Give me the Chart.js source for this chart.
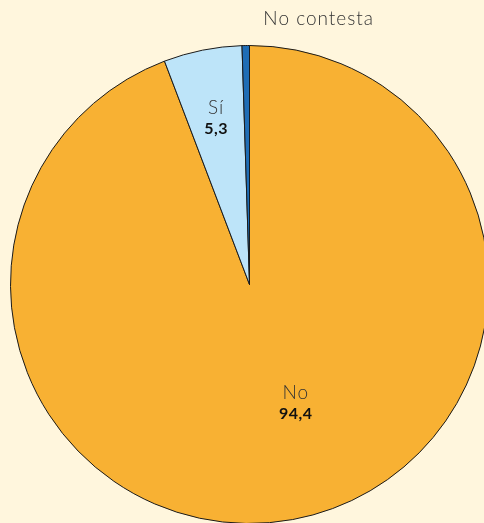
<!DOCTYPE html>
<html>
<head>
<meta charset="utf-8">
<script src="https://cdn.jsdelivr.net/npm/chart.js@4"></script>
<style>
  html, body { margin: 0; padding: 0; width: 484px; height: 523px; overflow: hidden; background: #fff6dd; }
  #wrap { position: absolute; left: 10px; top: 0; width: 479px; height: 524px; }
</style>
</head>
<body>
<div id="wrap"><canvas id="pie"></canvas></div>
<script>
// Respuestas (%)
const categorias = ['No', 'Sí', 'No contesta'];
const valores = [94.4, 5.3, 0.5];
const etiquetas = ['94,4', '5,3', ''];
const colores = ['#f8b133', '#bde4f9', '#1f6db5'];

// dónde va cada rótulo: fracción del radio y giro extra (grados)
const rotulos = [
  { r: 0.53, giro: -11 },
  { r: 0.71, giro: 0 },
  { r: 1.11, giro: 0, fuera: true }
];

const textos = {
  id: 'textos',
  afterDatasetsDraw(chart) {
    const ctx = chart.ctx;
    const arcos = chart.getDatasetMeta(0).data;
    arcos.forEach((arc, i) => {
      const p = arc.getProps(['x', 'y', 'startAngle', 'endAngle', 'outerRadius'], true);
      const ang = (p.startAngle + p.endAngle) / 2 + rotulos[i].giro * Math.PI / 180;
      const rad = p.outerRadius * rotulos[i].r;
      const x = p.x + Math.cos(ang) * rad;
      const y = p.y + Math.sin(ang) * rad;
      ctx.save();
      ctx.textBaseline = 'middle';
      ctx.fillStyle = '#333';
      ctx.font = '300 19px Lato, "Open Sans", sans-serif';
      ctx.letterSpacing = '1px';
      if (rotulos[i].fuera) {
        ctx.textAlign = 'left';
        ctx.fillText(categorias[i], x + 18, y);
      } else {
        ctx.textAlign = 'center';
        ctx.fillText(categorias[i], x, y - 10);
        ctx.fillStyle = '#111';
        ctx.font = 'bold 16px Lato, "Open Sans", sans-serif';
        ctx.letterSpacing = '0.5px';
        ctx.fillText(etiquetas[i], x, y + 11);
      }
      ctx.restore();
    });
  }
};

new Chart(document.getElementById('pie'), {
  type: 'pie',
  data: {
    labels: categorias,
    datasets: [{
      data: valores,
      backgroundColor: colores,
      borderColor: '#1a1a1a',
      borderWidth: 1
    }]
  },
  options: {
    responsive: true,
    maintainAspectRatio: false,
    animation: false,
    layout: { padding: { top: 45, left: 0, right: 0, bottom: 0 } },
    plugins: {
      legend: { display: false },
      tooltip: { enabled: false }
    }
  },
  plugins: [textos]
});
</script>
</body>
</html>
